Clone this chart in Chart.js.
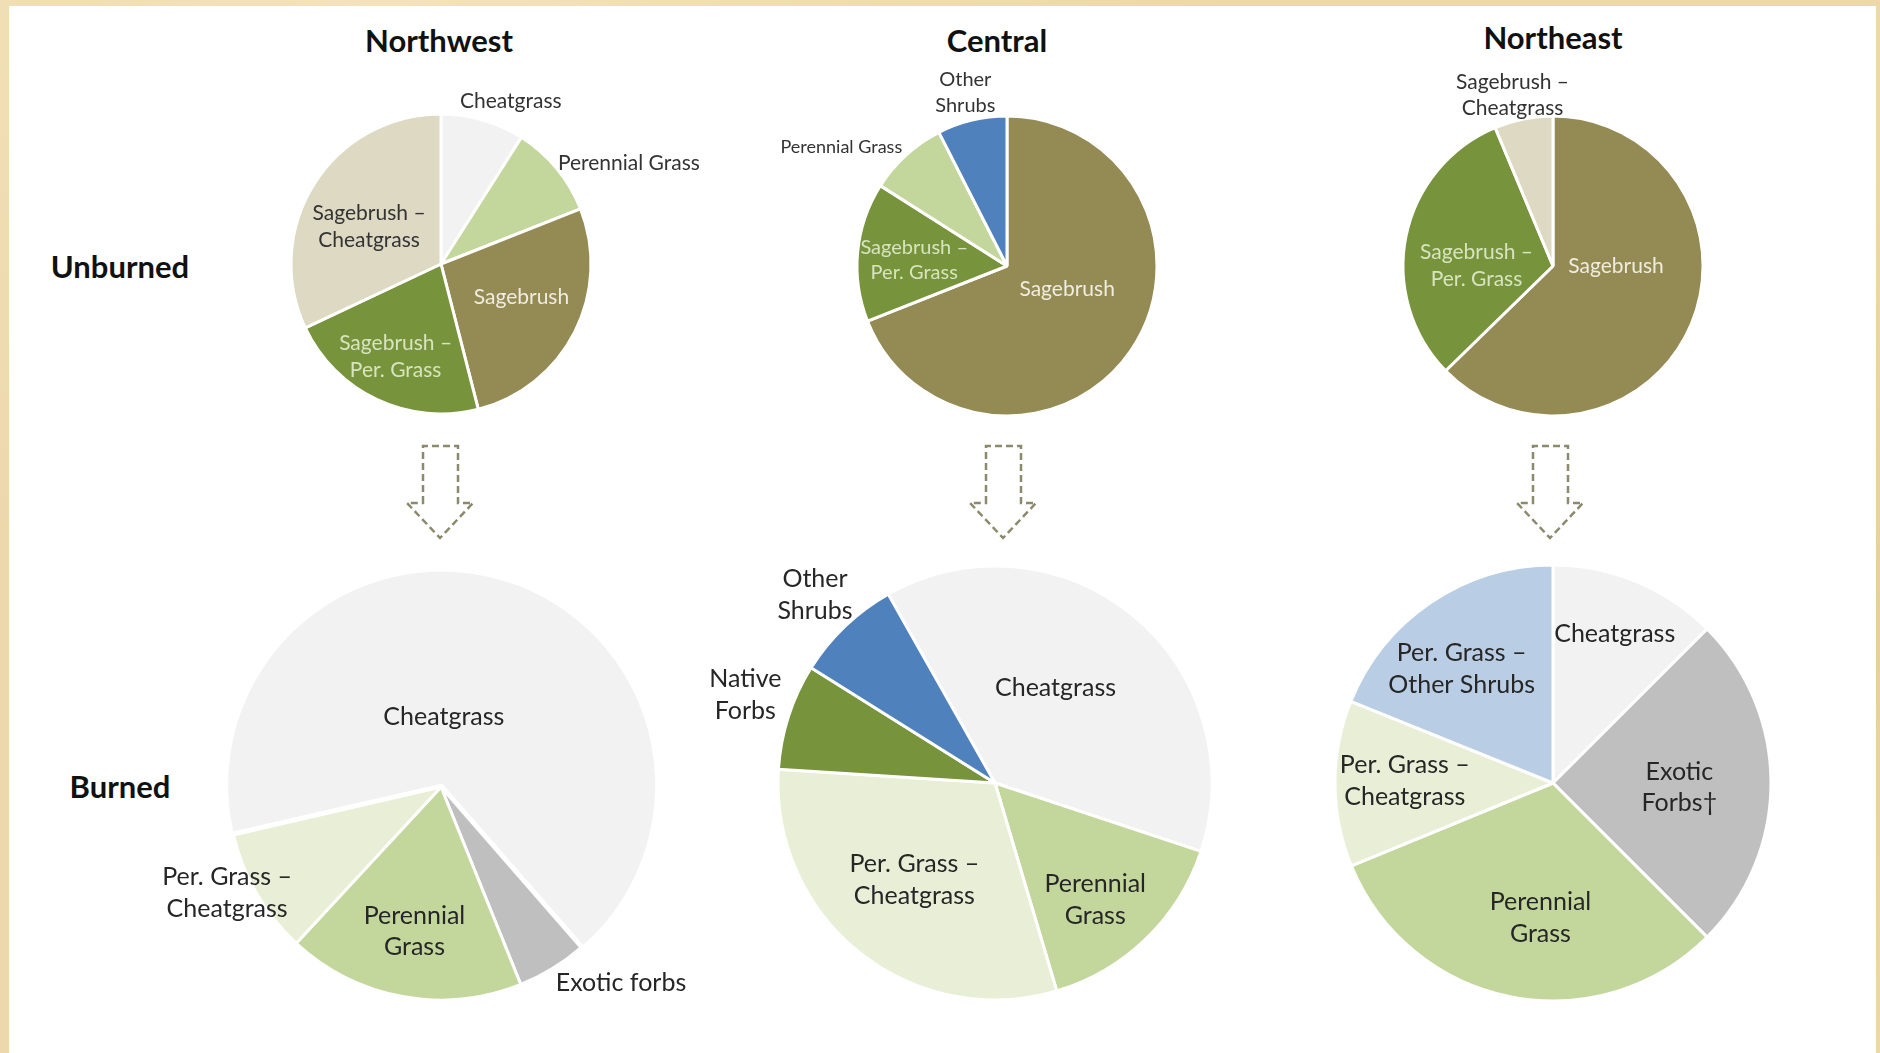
<!DOCTYPE html>
<html>
<head>
<meta charset="utf-8">
<title>Vegetation cover, unburned vs burned</title>
<script src="https://cdn.jsdelivr.net/npm/chart.js@4.4.1/dist/chart.umd.min.js"></script>
<style>
  html, body { margin: 0; padding: 0; }
  body {
    width: 1880px; height: 1053px; position: relative; overflow: hidden;
    font-family: Lato, "Open Sans", sans-serif;
    background:
      radial-gradient(ellipse at 20% 0%, #f3e2bb 0%, rgba(243,226,187,0) 40%),
      radial-gradient(ellipse at 100% 60%, #e6cf9f 0%, rgba(230,207,159,0) 50%),
      #ecd8ab;
  }
  #panel { position: absolute; left: 9px; top: 6px; width: 1867px; height: 1047px; background: #fff; }
  canvas { position: absolute; }
  .head {
    position: absolute; transform: translate(-50%, -50%);
    font-weight: bold; font-size: 31px; color: #111; white-space: nowrap;
  }
  #arrows { position: absolute; left: 0; top: 0; }
</style>
</head>
<body>
<div id="panel"></div>

<div class="head" style="left:439px; top:40px">Northwest</div>
<div class="head" style="left:997px; top:40px">Central</div>
<div class="head" style="left:1553px; top:37px">Northeast</div>
<div class="head" style="left:120px; top:266px">Unburned</div>
<div class="head" style="left:120px; top:786px">Burned</div>

<svg id="arrows" width="1880" height="1053">
  <g fill="none" stroke="#8c8a6c" stroke-width="2.5" stroke-dasharray="7 4">
    <path transform="translate(440,0)" d="M-17,503 L-17,446 L18,446 L18,503 L33,503 L0,538 L-33,503 Z"/>
    <path transform="translate(1003,0)" d="M-17,503 L-17,446 L18,446 L18,503 L33,503 L0,538 L-33,503 Z"/>
    <path transform="translate(1550,0)" d="M-17,503 L-17,446 L18,446 L18,503 L33,503 L0,538 L-33,503 Z"/>
  </g>
</svg>

<canvas id="nwUnburned" width="560" height="400" style="left:161px; top:64px"></canvas>
<canvas id="cUnburned" width="560" height="400" style="left:727px; top:66px"></canvas>
<canvas id="neUnburned" width="560" height="400" style="left:1273px; top:66px"></canvas>
<canvas id="nwBurned" width="560" height="500" style="left:161px; top:537px"></canvas>
<canvas id="cBurned" width="640" height="500" style="left:675px; top:533px"></canvas>
<canvas id="neBurned" width="560" height="500" style="left:1273px; top:533px"></canvas>

<script>
// cover classes (%) per region, unburned
const nwUnburnedLabels = ["Cheatgrass", "Perennial Grass", "Sagebrush", ["Sagebrush –", "Per. Grass"], ["Sagebrush –", "Cheatgrass"]];
const nwUnburnedValues = [9, 10, 27, 22, 32];

const cUnburnedLabels = ["Sagebrush", ["Sagebrush –", "Per. Grass"], "Perennial Grass", ["Other", "Shrubs"]];
const cUnburnedValues = [69, 15, 8.5, 7.5];

const neUnburnedLabels = ["Sagebrush", ["Sagebrush –", "Per. Grass"], ["Sagebrush –", "Cheatgrass"]];
const neUnburnedValues = [62.7, 31, 6.3];

// cover classes (%) per region, burned
const nwBurnedLabels = ["Cheatgrass", "Exotic forbs", ["Perennial", "Grass"], ["Per. Grass –", "Cheatgrass"]];
const nwBurnedValues = [67.2, 5.3, 18, 9.5];

const cBurnedLabels = ["Cheatgrass", ["Perennial", "Grass"], ["Per. Grass –", "Cheatgrass"], ["Native", "Forbs"], ["Other", "Shrubs"]];
const cBurnedValues = [38.3, 15.3, 30.6, 7.9, 7.9];

const neBurnedLabels = ["Cheatgrass", ["Exotic", "Forbs†"], ["Perennial", "Grass"], ["Per. Grass –", "Cheatgrass"], ["Per. Grass –", "Other Shrubs"]];
const neBurnedValues = [12.5, 25, 31.3, 12.3, 18.9];

const sliceColor = {
  "Sagebrush": "#948a54",
  "Sagebrush – Per. Grass": "#77933c",
  "Sagebrush – Cheatgrass": "#ddd9c3",
  "Cheatgrass": "#f2f2f2",
  "Perennial Grass": "#c3d69b",
  "Per. Grass – Cheatgrass": "#e8efd6",
  "Other Shrubs": "#4f81bd",
  "Native Forbs": "#77933c",
  "Exotic forbs": "#bfbfbf",
  "Exotic Forbs†": "#bfbfbf",
  "Per. Grass – Other Shrubs": "#b9cde5",
};

const nameOf = (l) => (Array.isArray(l) ? l.join(" ") : l);

// text on top of / next to each slice, placed along the slice's mid angle
const sliceLabels = {
  id: "sliceLabels",
  afterDatasetsDraw(chart, args, opts) {
    const ctx = chart.ctx;
    const arcs = chart.getDatasetMeta(0).data;
    ctx.save();
    ctx.textAlign = "center";
    ctx.textBaseline = "middle";
    arcs.forEach((arc, i) => {
      const p = opts.place[i];
      const { x, y, startAngle, endAngle, outerRadius } = arc.getProps(["x", "y", "startAngle", "endAngle", "outerRadius"], true);
      const mid = (startAngle + endAngle) / 2 + ((p.turn || 0) * Math.PI) / 180;
      const d = outerRadius * p.k;
      const cx = x + Math.cos(mid) * d;
      const cy = y + Math.sin(mid) * d;
      const text = chart.data.labels[i];
      const lines = Array.isArray(text) ? text : [text];
      const size = p.size || opts.size;
      ctx.font = `${size}px Lato, "Open Sans", sans-serif`;
      ctx.fillStyle = p.color || opts.color;
      const lh = size * 1.27;
      lines.forEach((ln, j) => ctx.fillText(ln, cx, cy + (j - (lines.length - 1) / 2) * lh));
    });
    ctx.restore();
  },
};

function drawPie(id, labels, values, o) {
  return new Chart(document.getElementById(id), {
    type: "pie",
    data: {
      labels: labels,
      datasets: [
        {
          data: values,
          backgroundColor: labels.map((l) => sliceColor[nameOf(l)]),
          borderColor: "#ffffff",
          borderWidth: 3,
          offset: o.offsets || 0,
        },
      ],
    },
    options: {
      responsive: false,
      animation: false,
      rotation: o.rotation || 0,
      radius: o.radius,
      layout: { padding: 0 },
      plugins: {
        legend: { display: false },
        tooltip: { enabled: false },
        sliceLabels: { place: o.place, size: o.size, color: o.color || "#333333" },
      },
    },
    plugins: [sliceLabels],
  });
}

const light = "#efece0";
const lightGreen = "#d7e4bd";

drawPie("nwUnburned", nwUnburnedLabels, nwUnburnedValues, {
  radius: 150,
  size: 21,
  place: [
    { k: 1.18, turn: 7 },
    { k: 1.42, turn: 11.5 },
    { k: 0.58, turn: -4.6, color: light },
    { k: 0.69, turn: 0.8, color: lightGreen },
    { k: 0.54, turn: -5 },
  ],
});

drawPie("cUnburned", cUnburnedLabels, cUnburnedValues, {
  radius: 150,
  size: 21,
  place: [
    { k: 0.43, turn: -13, color: light },
    { k: 0.62, turn: -1.7, color: lightGreen, size: 20 },
    { k: 1.36, turn: -12, size: 18 },
    { k: 1.19, turn: 0, size: 20 },
  ],
});

drawPie("neUnburned", neUnburnedLabels, neUnburnedValues, {
  radius: 150,
  size: 21,
  place: [
    { k: 0.42, turn: -23, color: light },
    { k: 0.51, turn: -11.5, color: lightGreen },
    { k: 1.17, turn: -2 },
  ],
});

drawPie("nwBurned", nwBurnedLabels, nwBurnedValues, {
  radius: 213,
  rotation: -103,
  offsets: [8, 0, 0, 0],
  size: 25,
  color: "#262626",
  place: [
    { k: 0.33, turn: -15.6 },
    { k: 1.25, turn: -11 },
    { k: 0.69, turn: 0 },
    { k: 1.12, turn: 3.8 },
  ],
});

drawPie("cBurned", cBurnedLabels, cBurnedValues, {
  radius: 217,
  rotation: -29.5,
  size: 25,
  color: "#262626",
  place: [
    { k: 0.52, turn: -7 },
    { k: 0.71, turn: 3.5 },
    { k: 0.58, turn: 1.3 },
    { k: 1.22, turn: 1.6 },
    { k: 1.2, turn: 0 },
  ],
});

drawPie("neBurned", neBurnedLabels, neBurnedValues, {
  radius: 218,
  size: 25,
  color: "#262626",
  place: [
    { k: 0.74, turn: 0 },
    { k: 0.58, turn: 2 },
    { k: 0.62, turn: -6 },
    { k: 0.68, turn: 1 },
    { k: 0.67, turn: -4.7 },
  ],
});
</script>
</body>
</html>
